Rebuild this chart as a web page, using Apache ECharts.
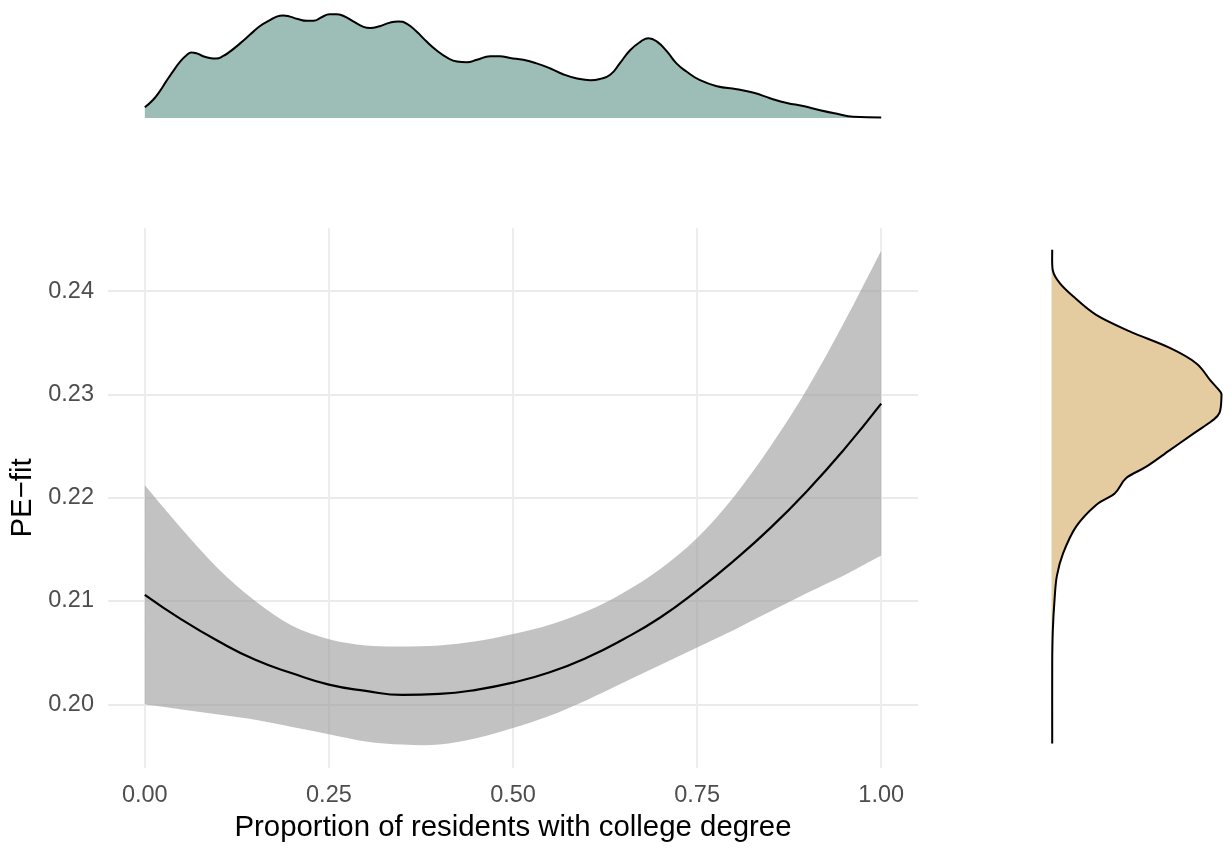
<!DOCTYPE html>
<html><head><meta charset="utf-8">
<script src="https://cdn.jsdelivr.net/npm/echarts@6/dist/echarts.min.js"></script>
<style>html,body{margin:0;padding:0;background:#fff}#c{width:1231px;height:848px}</style>
</head><body><div id="c"></div>
<script>
// ---- main panel: smooth fit with confidence band ----
const xGrid     = [0, 0.05, 0.1, 0.15, 0.2, 0.25, 0.3, 0.35, 0.4, 0.45, 0.5, 0.55, 0.6, 0.65, 0.7, 0.75, 0.8, 0.85, 0.9, 0.95, 1.0];
const fitVals   = [0.2106, 0.2082, 0.2061, 0.2043, 0.2030, 0.2019, 0.2013, 0.2009, 0.2010, 0.2014, 0.2021, 0.2031, 0.2045, 0.2063, 0.2084, 0.2110, 0.2139, 0.2171, 0.2207, 0.2247, 0.2291];
const upperVals = [0.2212, 0.2170, 0.2131, 0.2100, 0.2076, 0.2063, 0.2057, 0.2056, 0.2057, 0.2061, 0.2068, 0.2077, 0.2090, 0.2108, 0.2131, 0.2161, 0.2201, 0.2250, 0.2306, 0.2370, 0.2439];
const lowerVals = [0.2000, 0.1995, 0.1990, 0.1985, 0.1978, 0.1971, 0.1964, 0.1961, 0.1961, 0.1967, 0.1977, 0.1989, 0.2004, 0.2021, 0.2038, 0.2055, 0.2072, 0.2090, 0.2108, 0.2125, 0.2144];

// tick labels
const xTicks = [0, 0.25, 0.5, 0.75, 1.0];
const xTickLabels = ['0.00', '0.25', '0.50', '0.75', '1.00'];
const yTicks = [0.20, 0.21, 0.22, 0.23, 0.24];
const yTickLabels = ['0.20', '0.21', '0.22', '0.23', '0.24'];

// ---- top marginal density (college degree proportion) ----
const topDensX = [0.000, 0.011, 0.020, 0.029, 0.039, 0.048, 0.057, 0.063, 0.070, 0.079, 0.088, 0.097, 0.106, 0.116, 0.129, 0.143, 0.156, 0.170, 0.179, 0.188, 0.197, 0.208, 0.220, 0.229, 0.240, 0.251, 0.260, 0.270, 0.283, 0.297, 0.306, 0.319, 0.333, 0.344, 0.356, 0.369, 0.383, 0.396, 0.410, 0.424, 0.437, 0.451, 0.469, 0.482, 0.496, 0.514, 0.532, 0.550, 0.568, 0.587, 0.605, 0.618, 0.632, 0.645, 0.659, 0.673, 0.684, 0.696, 0.709, 0.722, 0.736, 0.754, 0.777, 0.804, 0.827, 0.849, 0.872, 0.894, 0.917, 0.940, 0.962, 1.000];
const topDensD = [0.18, 0.30, 0.44, 0.61, 0.79, 0.94, 1.05, 1.09, 1.08, 1.03, 1.00, 0.99, 1.03, 1.11, 1.24, 1.39, 1.53, 1.63, 1.69, 1.71, 1.69, 1.65, 1.62, 1.62, 1.68, 1.73, 1.73, 1.70, 1.61, 1.52, 1.50, 1.53, 1.59, 1.61, 1.57, 1.44, 1.27, 1.13, 1.01, 0.94, 0.93, 0.97, 1.03, 1.03, 1.00, 0.97, 0.91, 0.83, 0.73, 0.66, 0.63, 0.65, 0.72, 0.91, 1.13, 1.27, 1.33, 1.27, 1.11, 0.91, 0.77, 0.63, 0.53, 0.48, 0.42, 0.33, 0.25, 0.20, 0.13, 0.07, 0.02, 0.01];

// ---- right marginal density (PE-fit) ----
const rightDensY = [0.2440, 0.2420, 0.2408, 0.2395, 0.2377, 0.2361, 0.2345, 0.2330, 0.2314, 0.2303, 0.2298, 0.2282, 0.2274, 0.2262, 0.2246, 0.2230, 0.2219, 0.2204, 0.2193, 0.2172, 0.2146, 0.2124, 0.2101, 0.2072, 0.2040, 0.1962];
const rightDensD = [0.14, 0.26, 1.6, 4.3, 8.9, 15.6, 23.6, 28.9, 31.6, 33.6, 33.9, 33.5, 31.9, 28.3, 23.6, 18.9, 14.9, 12.6, 8.9, 4.9, 2.3, 1.06, 0.6, 0.26, 0.14, 0.14];

const FONT = '"Liberation Sans", Arial, Helvetica, sans-serif';
function pickLabel(ticks, labels) {
  return function (v) {
    for (let i = 0; i < ticks.length; i++) if (Math.abs(ticks[i] - v) < 1e-9) return labels[i];
    return '';
  };
}
// smooth path segments (Catmull-Rom -> cubic Bezier) through pixel points given by the axes
function curveTo(pts) {
  let d = '';
  for (let i = 0; i < pts.length - 1; i++) {
    const p0 = pts[i - 1] || pts[i], p1 = pts[i], p2 = pts[i + 1], p3 = pts[i + 2] || pts[i + 1];
    const c1 = [p1[0] + (p2[0] - p0[0]) / 6, p1[1] + (p2[1] - p0[1]) / 6];
    const c2 = [p2[0] - (p3[0] - p1[0]) / 6, p2[1] - (p3[1] - p1[1]) / 6];
    d += ' C' + c1[0] + ' ' + c1[1] + ' ' + c2[0] + ' ' + c2[1] + ' ' + p2[0] + ' ' + p2[1];
  }
  return d;
}

const chart = echarts.init(document.getElementById('c'), null, { renderer: 'canvas' });
const gridLine = { show: true, showMinLine: false, showMaxLine: false, lineStyle: { color: '#ebebeb', width: 1.8 } };

chart.setOption({
  backgroundColor: '#ffffff',
  animation: false,
  grid: [
    { left: 108, top: 228, width: 810, height: 540, outerBoundsMode: 'none' },
    { left: 108, top: 0, width: 810, height: 118, outerBoundsMode: 'none' },
    { left: 1043, top: 228, width: 187, height: 540, outerBoundsMode: 'none' }
  ],
  xAxis: [
    {
      gridIndex: 0, type: 'value', min: -0.05, max: 1.05, minInterval: 0.25, maxInterval: 0.25,
      axisLine: { show: false }, axisTick: { show: false }, splitLine: gridLine,
      axisLabel: { show: true, showMinLabel: false, showMaxLabel: false, margin: 16, color: '#4d4d4d', fontSize: 23.5, fontFamily: FONT, formatter: pickLabel(xTicks, xTickLabels) },
      name: 'Proportion of residents with college degree', nameLocation: 'middle', nameGap: 43,
      nameTextStyle: { color: '#000', fontSize: 29.4, fontFamily: FONT }
    },
    { gridIndex: 1, type: 'value', min: -0.05, max: 1.05, show: false, splitLine: { show: false } },
    { gridIndex: 2, type: 'value', min: -1.7, max: 35.6, show: false, splitLine: { show: false } }
  ],
  yAxis: [
    {
      gridIndex: 0, type: 'value', min: 0.19383, max: 0.24611, minInterval: 0.01, maxInterval: 0.01,
      axisLine: { show: false }, axisTick: { show: false }, splitLine: gridLine,
      axisLabel: { show: true, showMinLabel: false, showMaxLabel: false, margin: 14, color: '#4d4d4d', fontSize: 23.5, fontFamily: FONT, formatter: pickLabel(yTicks, yTickLabels) },
      name: 'PE\u2212fit', nameLocation: 'middle', nameGap: 70, nameRotate: 90,
      nameTextStyle: { color: '#000', fontSize: 29.4, fontFamily: FONT }
    },
    { gridIndex: 1, type: 'value', min: 0, max: 1.967, show: false, splitLine: { show: false } },
    { gridIndex: 2, type: 'value', min: 0.19383, max: 0.24611, show: false, splitLine: { show: false } }
  ],
  series: [
    {
      type: 'custom', xAxisIndex: 0, yAxisIndex: 0, z: 3, silent: true,
      data: [[xGrid[0], fitVals[0]]],
      renderItem: function (params, api) {
        const up = xGrid.map((x, i) => api.coord([x, upperVals[i]]));
        const lo = xGrid.map((x, i) => api.coord([x, lowerVals[i]])).reverse();
        const d = 'M' + up[0][0] + ' ' + up[0][1] + curveTo(up) +
                  ' L' + lo[0][0] + ' ' + lo[0][1] + curveTo(lo) + ' Z';
        return { type: 'path', shape: { pathData: d }, style: { fill: 'rgba(153,153,153,0.6)' } };
      }
    },
    {
      type: 'line', xAxisIndex: 0, yAxisIndex: 0, z: 4, smooth: true, symbol: 'none', silent: true,
      data: xGrid.map((x, i) => [x, fitVals[i]]),
      lineStyle: { color: '#000', width: 2.2 }
    },
    {
      type: 'line', xAxisIndex: 1, yAxisIndex: 1, z: 4, smooth: 0.5, symbol: 'none', silent: true,
      data: topDensX.map((x, i) => [x, topDensD[i]]),
      lineStyle: { color: '#000', width: 2 },
      areaStyle: { color: '#9dbdb7', opacity: 1 }
    },
    {
      type: 'custom', xAxisIndex: 2, yAxisIndex: 2, z: 4, silent: true,
      data: [[rightDensD[0], rightDensY[0]]],
      renderItem: function (params, api) {
        const pts = rightDensY.map((y, i) => api.coord([rightDensD[i], y]));
        const base = api.coord([0, rightDensY[0]])[0];
        const line = 'M' + pts[0][0] + ' ' + pts[0][1] + curveTo(pts);
        const fill = 'M' + base + ' ' + pts[0][1] + ' L' + pts[0][0] + ' ' + pts[0][1] + curveTo(pts) +
                     ' L' + base + ' ' + pts[pts.length - 1][1] + ' Z';
        return {
          type: 'group', children: [
            { type: 'path', shape: { pathData: fill }, style: { fill: '#e5cba0' } },
            { type: 'path', shape: { pathData: line }, style: { stroke: '#000', lineWidth: 2, fill: null } }
          ]
        };
      }
    }
  ]
});
</script></body></html>
